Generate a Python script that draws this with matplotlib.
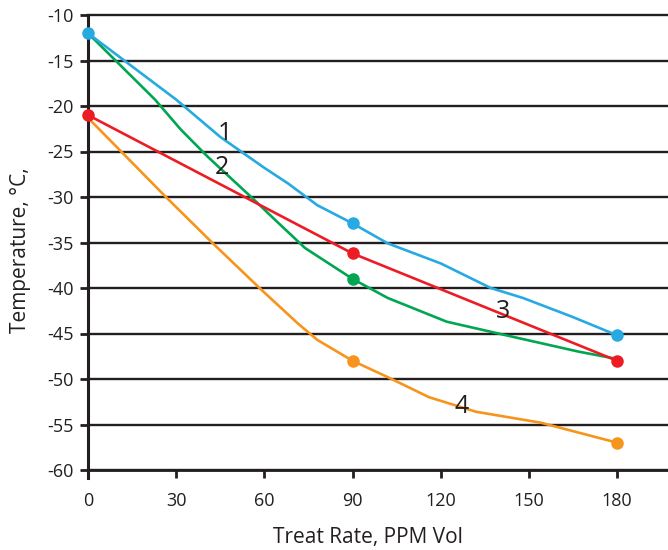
import matplotlib
matplotlib.use("Agg")
import matplotlib.pyplot as plt
import numpy as np

plt.rcParams['font.family'] = ['Open Sans', 'DejaVu Sans']
plt.rcParams['axes.unicode_minus'] = False

# Series 1 (blue)
x1 = [0, 30, 45, 60, 68, 78, 90, 102, 120, 137, 148, 165, 180]
y1 = [-12, -19.3, -23.4, -26.8, -28.5, -30.9, -32.9, -35.1, -37.3, -40.0, -41.1, -43.2, -45.2]
# Series 2 (green)
x2 = [0, 22.8, 31.6, 40.8, 55.5, 63.6, 73.8, 90, 102, 122, 145, 167, 180]
y2 = [-12, -19.3, -22.6, -25.6, -30.0, -32.5, -35.6, -39.0, -41.1, -43.7, -45.4, -47.0, -47.8]
# Series 3 (red)
x3 = [0, 90, 180]
y3 = [-21.0, -36.2, -48.0]
# Series 4 (orange)
x4 = [0, 26.5, 42.5, 59, 71.4, 78, 90, 102, 116, 132, 154, 180]
y4 = [-21.3, -30.0, -35.1, -40.2, -43.9, -45.7, -48.0, -49.8, -52.0, -53.6, -54.8, -57.0]

series_labels = ["1", "2", "3", "4"]
label_pos = [(46.6, -23.0), (45.6, -26.8), (141.2, -42.6), (127.0, -53.0)]

xticks = [0, 30, 60, 90, 120, 150, 180]
yticks = [-60, -55, -50, -45, -40, -35, -30, -25, -20, -15, -10]

c_blue = '#27aae1'
c_green = '#00a651'
c_red = '#ed1c24'
c_orange = '#f7941d'
dark = '#231f20'

fig = plt.figure(figsize=(6.68, 5.5), dpi=100)
ax = fig.add_axes([88/668, 80/550, 1 - 88/668, 455/550])
ax.set_xlim(0, 197.3)
ax.set_ylim(-60, -10)

for yv in yticks:
    ax.axhline(yv, color=dark, lw=1.7, zorder=1, clip_on=False)

def plot_series(x, y, c, z, marks):
    idx = [i for i, v in enumerate(x) if v in marks]
    ax.plot(x, y, color=c, lw=1.9, marker='o', markersize=8,
            markevery=idx, zorder=z, clip_on=False, solid_joinstyle='round')

plot_series(x2, y2, c_green, 3, [90])
plot_series(x4, y4, c_orange, 4, [90, 180])
plot_series(x3, y3, c_red, 5, [0, 90, 180])
plot_series(x1, y1, c_blue, 6, [0, 90, 180])

for lab, (lx, ly) in zip(series_labels, label_pos):
    ax.text(lx, ly, lab, fontsize=18, color=dark, ha='center', va='center', zorder=7)

ax.set_xticks(xticks)
ax.set_xticklabels([str(t) for t in xticks])
ax.set_yticks(yticks)
ax.set_yticklabels([str(t) for t in yticks])

for s in ['top', 'right']:
    ax.spines[s].set_visible(False)
ax.spines['left'].set_color(dark)
ax.spines['left'].set_linewidth(2.2)
ax.spines['bottom'].set_color(dark)
ax.spines['bottom'].set_linewidth(2.0)
ax.spines['left'].set_bounds(-60.9, -10)

ax.tick_params(axis='both', direction='out', length=6, width=2.0, color=dark,
               labelsize=13, labelcolor=dark)
ax.tick_params(axis='x', pad=10)
ax.tick_params(axis='y', pad=4)

fig.text(368/668, 1 - 537/550, "Treat Rate, PPM Vol", ha='center', va='center',
         fontsize=15, color=dark)
fig.text(21/668, 1 - 250/550, "Temperature, °C,", ha='center', va='center',
         rotation=90, fontsize=15, color=dark)

fig.savefig("out.png", dpi=100)
